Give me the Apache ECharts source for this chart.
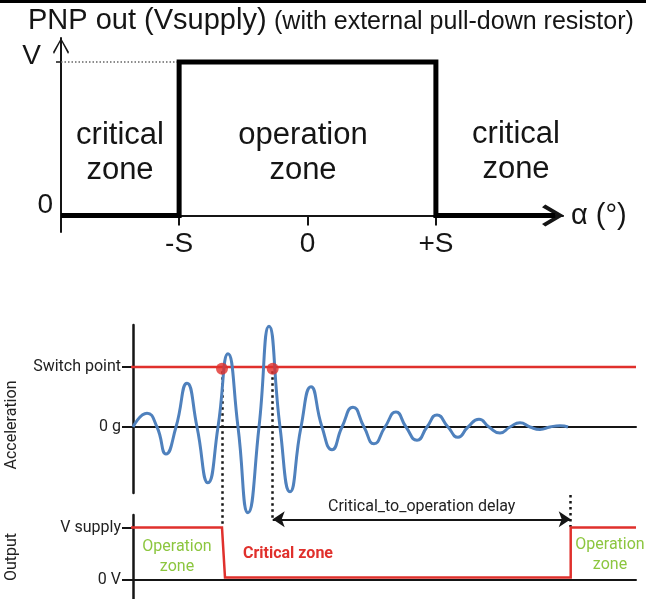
<!DOCTYPE html>
<html>
<head>
<meta charset="utf-8">
<script src="https://cdn.jsdelivr.net/npm/echarts@6/dist/echarts.min.js"></script>
<style>
html, body { margin: 0; padding: 0; background: #fff; }
#main { width: 646px; height: 599px; }
</style>
</head>
<body>
<div id="main"></div>
<script>
// top diagram: PNP output vs angle (alpha in units of S, output in units of V)
var stepAlpha = [-1.92, -1, -1, 1, 1, 1.93]
var stepOut = [0, 0, 1, 1, 0, 0]
var alphaTicks = [-1, 0, 1]
var alphaLabels = ['-S', '0', '+S']

// bottom diagram: acceleration (g, switch point = 1) over time
var waveT = [0, 14, 24, 33, 43, 54, 64, 75, 85, 95, 105, 115, 126, 136, 147, 157, 168, 178, 189, 199,
  209, 220, 231, 241, 252, 263, 273, 284, 294, 304, 315, 325, 335, 346, 356, 367, 377, 387, 397, 407,
  417, 427, 435]
var waveG = [0, 0.23, 0, -0.45, 0, 0.73, 0, -0.93, 0, 1.22, 0, -1.43, 0, 1.68, 0, -1.08, 0, 0.67, 0, -0.38,
  0, 0.33, 0, -0.28, 0, 0.25, 0, -0.22, 0, 0.2, 0, -0.17, 0, 0.13, 0, -0.1, 0, 0.07, 0, -0.04,
  0, 0.02, 0]
var switchLevel = 1
var switchT = [89, 139.7]         // where the wave crosses the switch point
var delayEndT = 437.7             // end of critical_to_operation delay

// output (V supply = 1)
var outT = [-11, 89, 92, 437.7, 437.7, 503]
var outV = [1, 1, 0.05, 0.05, 1, 1]

var RED = '#e0302c'
var BLUE = '#4f81bd'
var GREEN = '#8cc63f'
var INK = '#151515'
var arrowBold = 'path://M50,0 L100,85 L88,100 L50,35 L12,100 L0,85 Z'
var arrowThin = 'path://M50,0 L100,88 L94,100 L50,16 L6,100 L0,88 Z'

function pairs(xs, ys) {
  return xs.map(function(x, i) { return [x, ys[i]] })
}

var chart = echarts.init(document.getElementById('main'))

var option = {
  animation: false,
  backgroundColor: '#fff',
  title: [
    {
      text: 'PNP out (Vsupply)',
      left: 23,
      top: 1,
      textStyle: { fontFamily: 'Liberation Sans', fontSize: 29, fontWeight: 'normal', color: INK }
    },
    {
      text: '(with external pull-down resistor)',
      left: 269,
      top: 5,
      textStyle: { fontFamily: 'Liberation Sans', fontSize: 25, fontWeight: 'normal', color: INK }
    }
  ],
  grid: [
    { left: 61, top: 38, width: 502, height: 194 },
    { left: 133, top: 325, width: 503, height: 168 },
    { left: 133, top: 515, width: 503, height: 84 }
  ],
  xAxis: [
    {
      type: 'value',
      gridIndex: 0,
      min: -1.92,
      max: 1.99,
      axisLine: {
        onZero: true,
        symbol: ['none', arrowBold],
        symbolSize: [24, 22],
        symbolOffset: [0, -10],
        lineStyle: { color: INK, width: 2 }
      },
      axisTick: { customValues: alphaTicks, length: 10, lineStyle: { color: INK, width: 2 } },
      axisLabel: {
        customValues: alphaTicks,
        formatter: function(v) { return alphaLabels[alphaTicks.indexOf(v)] },
        fontFamily: 'Liberation Sans',
        fontSize: 28,
        color: INK,
        margin: -2
      },
      splitLine: { show: false },
      name: 'α (°)',
      nameLocation: 'end',
      nameGap: 8,
      nameTextStyle: { fontFamily: 'Liberation Sans', fontSize: 29, color: INK, verticalAlign: 'middle' }
    },
    {
      type: 'value', gridIndex: 1, min: 0, max: 503,
      axisLine: { onZero: true, lineStyle: { color: INK, width: 2 } },
      axisTick: { show: false }, axisLabel: { show: false }, splitLine: { show: false }
    },
    {
      type: 'value', gridIndex: 2, min: 0, max: 503,
      axisLine: { onZero: true, lineStyle: { color: INK, width: 2 } },
      axisTick: { show: false }, axisLabel: { show: false }, splitLine: { show: false }
    }
  ],
  yAxis: [
    {
      type: 'value',
      gridIndex: 0,
      min: -0.107,
      max: 1.156,
      axisLine: {
        onZero: false,
        symbol: ['none', arrowThin],
        symbolSize: [19, 16],
        symbolOffset: [0, -8],
        lineStyle: { color: INK, width: 2 }
      },
      axisTick: { customValues: [1], length: 5, lineStyle: { color: INK, width: 1.5 } },
      axisLabel: {
        customValues: [0, 1],
        formatter: function(v) { return v === 1 ? '{v|V}' : '{z|0}' },
        fontFamily: 'Liberation Sans',
        fontSize: 28,
        color: INK,
        margin: 8,
        verticalAlign: 'bottom',
        lineHeight: 20,
        rich: {
          v: { fontFamily: 'Liberation Sans', fontSize: 28, lineHeight: 12, padding: [0, 12, 0, 0] },
          z: { fontFamily: 'Liberation Sans', fontSize: 28, lineHeight: 20 }
        }
      },
      splitLine: { show: false }
    },
    {
      type: 'value',
      gridIndex: 1,
      min: -1.1,
      max: 1.7,
      axisLine: { onZero: false, lineStyle: { color: INK, width: 2.5 } },
      axisTick: { customValues: [0, 1], length: 11, lineStyle: { color: INK, width: 2 } },
      axisLabel: {
        customValues: [0, 1],
        formatter: function(v) { return v === 1 ? 'Switch point' : '0 g' },
        fontFamily: 'Roboto',
        fontSize: 16,
        color: '#222',
        margin: 12
      },
      splitLine: { show: false }
    },
    {
      type: 'value',
      gridIndex: 2,
      min: -0.36,
      max: 1.24,
      axisLine: { onZero: false, lineStyle: { color: INK, width: 2.5 } },
      axisTick: { customValues: [0, 1], length: 11, lineStyle: { color: INK, width: 2 } },
      axisLabel: {
        customValues: [0, 1],
        formatter: function(v) { return v === 1 ? 'V supply' : '0 V' },
        fontFamily: 'Roboto',
        fontSize: 16,
        color: '#222',
        margin: 12
      },
      splitLine: { show: false }
    }
  ],
  series: [
    {
      // dotted guide at V
      type: 'line',
      xAxisIndex: 0,
      yAxisIndex: 0,
      data: [[stepAlpha[0], 1], [stepAlpha[1], 1]],
      symbol: 'none',
      lineStyle: { color: '#666', width: 1.5, type: [1.5, 2] }
    },
    {
      type: 'line',
      xAxisIndex: 0,
      yAxisIndex: 0,
      data: pairs(stepAlpha, stepOut),
      symbol: 'none',
      clip: false,
      lineStyle: { color: '#000', width: 5, join: 'miter' }
    },
    {
      // switch point threshold
      type: 'line',
      xAxisIndex: 1,
      yAxisIndex: 1,
      data: [[-11, switchLevel], [503, switchLevel]],
      symbol: 'none',
      clip: false,
      lineStyle: { color: RED, width: 2.5 }
    },
    {
      type: 'line',
      xAxisIndex: 1,
      yAxisIndex: 1,
      data: pairs(waveT, waveG),
      smooth: 0.55,
      symbol: 'none',
      clip: false,
      lineStyle: { color: BLUE, width: 3 }
    },
    {
      type: 'lines',
      coordinateSystem: 'cartesian2d',
      xAxisIndex: 1,
      yAxisIndex: 1,
      clip: false,
      lineStyle: { color: INK, width: 2.5, type: [2.5, 3.5], opacity: 1 },
      data: [
        { coords: [[switchT[0], 0.93], [switchT[0], -1.667]] },
        { coords: [[switchT[1], 0.93], [switchT[1], -1.533]] },
        { coords: [[delayEndT, -1.133], [delayEndT, -1.667]] }
      ]
    },
    {
      type: 'lines',
      coordinateSystem: 'cartesian2d',
      xAxisIndex: 1,
      yAxisIndex: 1,
      clip: false,
      symbol: ['arrow', 'arrow'],
      symbolSize: 12,
      lineStyle: { color: INK, width: 2, opacity: 1 },
      label: {
        show: true,
        position: 'insideMiddleTop',
        distance: 4,
        formatter: 'Critical_to_operation delay',
        fontFamily: 'Roboto',
        fontSize: 16,
        color: '#222'
      },
      data: [{ coords: [[switchT[1], -1.538], [delayEndT, -1.538]] }]
    },
    {
      type: 'scatter',
      xAxisIndex: 1,
      yAxisIndex: 1,
      data: switchT.map(function(t) { return [t, switchLevel * 0.97] }),
      symbolSize: 12,
      z: 5,
      itemStyle: { color: RED }
    },
    {
      type: 'line',
      xAxisIndex: 2,
      yAxisIndex: 2,
      data: pairs(outT, outV),
      symbol: 'none',
      clip: false,
      lineStyle: { color: RED, width: 2.5, join: 'miter' }
    }
  ],
  graphic: [
    { type: 'rect', shape: { x: 0, y: 0, width: 646, height: 3 }, style: { fill: '#000' } },
    {
      type: 'text', x: 120, y: 153,
      style: { text: 'critical\nzone', fontFamily: 'Liberation Sans', fontSize: 31, lineHeight: 35, fill: INK, align: 'center', verticalAlign: 'middle' }
    },
    {
      type: 'text', x: 303, y: 153,
      style: { text: 'operation\nzone', fontFamily: 'Liberation Sans', fontSize: 31, lineHeight: 35, fill: INK, align: 'center', verticalAlign: 'middle' }
    },
    {
      type: 'text', x: 516, y: 152,
      style: { text: 'critical\nzone', fontFamily: 'Liberation Sans', fontSize: 31, lineHeight: 35, fill: INK, align: 'center', verticalAlign: 'middle' }
    },
    {
      type: 'text', x: 12, y: 425, rotation: Math.PI / 2,
      style: { text: 'Acceleration', fontFamily: 'Roboto', fontSize: 16, fill: '#222', align: 'center', verticalAlign: 'middle' }
    },
    {
      type: 'text', x: 12, y: 557, rotation: Math.PI / 2,
      style: { text: 'Output', fontFamily: 'Roboto', fontSize: 16, fill: '#222', align: 'center', verticalAlign: 'middle' }
    },
    {
      type: 'text', x: 177, y: 557,
      style: { text: 'Operation\nzone', fontFamily: 'Roboto', fontSize: 16, lineHeight: 20, fill: GREEN, align: 'center', verticalAlign: 'middle' }
    },
    {
      type: 'text', x: 288, y: 554,
      style: { text: 'Critical zone', fontFamily: 'Roboto', fontSize: 16, fontWeight: 'bold', fill: RED, align: 'center', verticalAlign: 'middle' }
    },
    {
      type: 'text', x: 610, y: 555,
      style: { text: 'Operation\nzone', fontFamily: 'Roboto', fontSize: 16, lineHeight: 20, fill: GREEN, align: 'center', verticalAlign: 'middle' }
    }
  ]
}

chart.setOption(option)
</script>
</body>
</html>
